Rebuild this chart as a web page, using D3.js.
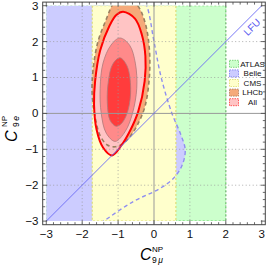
<!DOCTYPE html>
<html>
<head>
<meta charset="utf-8">
<script src="https://cdn.jsdelivr.net/npm/d3@7"></script>
<style>
body { margin: 0; background: #fff; }
svg { display: block; font-family: "Liberation Sans", Arial, sans-serif; }
</style>
</head>
<body>
<svg id="chart" width="266" height="267"></svg>
<script>
// Axis ticks and labels
const tickValues = [-3, -2, -1, 0, 1, 2, 3];
const tickLabels = ["\u22123", "\u22122", "\u22121", "0", "1", "2", "3"];
const gridValues = [-2, -1, 1, 2];

// Experiment regions (C9mu, C9e)
const atlasX = [-3, 2];
const cmsX = [-1.72, 0.61];
// Belle: right edge of the allowed region (it continues off the plot to the left)
const belleEdge = [[-0.5, 3.6], [-0.2, 3.0], [0.0, 2.0], [0.2, 1.0], [0.5, 0.0], [0.75, -0.6],
    [0.87, -1.02], [0.78, -1.45], [0.55, -1.8], [0.15, -2.1], [-0.57, -2.45], [-1.4, -3.0], [-2.1, -3.5]];
const belleFar = [[-4.5, -3.5], [-4.5, 3.6]];
const lhcbContour = [[-0.85, 3.35], [-0.45, 3.0], [-0.24, 2.5], [-0.13, 1.8], [-0.13, 1.0], [-0.25, 0.2],
    [-0.45, -0.3], [-0.65, -0.62], [-0.85, -0.83], [-1.08, -0.93], [-1.3, -0.88], [-1.5, -0.62],
    [-1.62, -0.2], [-1.72, 0.5], [-1.7, 1.2], [-1.56, 2.0], [-1.33, 2.62], [-1.14, 3.05]];
// Combined fit: 3, 2, 1 sigma contours
const all3 = [[-0.86, 2.83], [-0.53, 2.64], [-0.34, 2.2], [-0.24, 1.6], [-0.26, 0.9], [-0.44, 0.05],
    [-0.66, -0.47], [-0.9, -0.88], [-1.17, -1.17], [-1.42, -0.95], [-1.6, -0.45], [-1.67, 0.25],
    [-1.64, 0.9], [-1.5, 1.75], [-1.24, 2.44], [-1.05, 2.74]];
const all2 = [[-0.95, 2.1], [-0.68, 1.9], [-0.52, 1.4], [-0.48, 0.7], [-0.6, 0.0], [-0.8, -0.5],
    [-1.08, -0.78], [-1.33, -0.55], [-1.47, 0.0], [-1.5, 0.7], [-1.42, 1.4], [-1.2, 1.9]];
const all1 = [[-0.95, 1.55], [-0.75, 1.32], [-0.65, 0.7], [-0.72, 0.1], [-0.88, -0.25], [-1.05, -0.36],
    [-1.22, -0.2], [-1.3, 0.3], [-1.27, 0.9], [-1.15, 1.37]];
const lfuLine = [[-3, -3], [3, 3]];

const legendLabels = ["ATLAS", "Belle", "CMS", "LHCb", "All"];
const legendFill = ["#ccffcc", "#ccccff", "#ffffcc", "#f5aa7a", "#ffc4c4"];
const legendStroke = ["#66cc66", "#7777ee", "#dddd66", "#aa7755", "#ff3333"];

// Scales
const svg = d3.select("#chart");
const x = d3.scaleLinear().domain([-3.1, 3.1]).range([42.7, 265.3]);
const y = d3.scaleLinear().domain([-3.1, 3.1]).range([224.7, 2.1]);

svg.append("defs").append("clipPath").attr("id", "plotClip")
    .append("rect")
    .attr("x", x(-3)).attr("y", y(3))
    .attr("width", x(3) - x(-3)).attr("height", y(-3) - y(3));

const plot = svg.append("g").attr("clip-path", "url(#plotClip)");

const closed = d3.line().x(d => x(d[0])).y(d => y(d[1])).curve(d3.curveCatmullRomClosed.alpha(0.5));
const open = d3.line().x(d => x(d[0])).y(d => y(d[1])).curve(d3.curveCatmullRom.alpha(0.5));

// ATLAS band
plot.append("rect")
    .attr("x", x(atlasX[0])).attr("y", y(3))
    .attr("width", x(atlasX[1]) - x(atlasX[0])).attr("height", y(-3) - y(3))
    .attr("fill", "#ccffcc")
    .attr("stroke", "#66cc66").attr("stroke-width", 1.2).attr("stroke-dasharray", "2,2");

// Belle region
const bellePath = open(belleEdge) + belleFar.map(p => "L" + x(p[0]) + "," + y(p[1])).join("") + "Z";
plot.append("path").attr("d", bellePath).attr("fill", "#ccccff");

// CMS band
plot.append("rect")
    .attr("x", x(cmsX[0])).attr("y", y(3))
    .attr("width", x(cmsX[1]) - x(cmsX[0])).attr("height", y(-3) - y(3))
    .attr("fill", "#ffffcc")
    .attr("stroke", "#dddd77").attr("stroke-width", 1.2).attr("stroke-dasharray", "2,2");

plot.append("path").attr("d", open(belleEdge))
    .attr("fill", "none").attr("stroke", "#8f8ff0").attr("stroke-width", 1.4).attr("stroke-dasharray", "4,3");

// LHCb
plot.append("path").attr("d", closed(lhcbContour)).attr("fill", "#f5aa7a");

// All
plot.append("path").attr("d", closed(all3)).attr("fill", "#ffc4c4");
plot.append("path").attr("d", closed(all2)).attr("fill", "#ff8a8a")
    .attr("stroke", "#b07878").attr("stroke-width", 0.8);
plot.append("path").attr("d", closed(all1)).attr("fill", "#ff3c3c")
    .attr("stroke", "#b07878").attr("stroke-width", 0.8);

plot.append("path").attr("d", closed(lhcbContour))
    .attr("fill", "none").attr("stroke", "#9a8060").attr("stroke-width", 1.6).attr("stroke-dasharray", "4,3");
plot.append("path").attr("d", closed(all3))
    .attr("fill", "none").attr("stroke", "#ff0000").attr("stroke-width", 2);

// Grid
const grid = svg.append("g");
gridValues.forEach(v => {
    grid.append("line").attr("x1", x(v)).attr("x2", x(v)).attr("y1", y(3.1)).attr("y2", y(-3.1))
        .attr("stroke", "#999").attr("stroke-width", 0.8).attr("stroke-dasharray", "1,2.5");
    grid.append("line").attr("y1", y(v)).attr("y2", y(v)).attr("x1", x(-3.1)).attr("x2", x(3.1))
        .attr("stroke", "#999").attr("stroke-width", 0.8).attr("stroke-dasharray", "1,2.5");
});
grid.append("line").attr("x1", x(0)).attr("x2", x(0)).attr("y1", y(3.1)).attr("y2", y(-3.1))
    .attr("stroke", "#999").attr("stroke-width", 1);
grid.append("line").attr("y1", y(0)).attr("y2", y(0)).attr("x1", x(-3.1)).attr("x2", x(3.1))
    .attr("stroke", "#999").attr("stroke-width", 1);

// LFU diagonal
svg.append("path").attr("d", d3.line().x(d => x(d[0])).y(d => y(d[1]))(lfuLine))
    .attr("stroke", "#6a6af5").attr("stroke-width", 0.9).attr("fill", "none");
svg.append("text")
    .attr("transform", "translate(252,27) rotate(-45)")
    .attr("text-anchor", "middle").attr("dominant-baseline", "central")
    .attr("font-size", 10).attr("fill", "#5a5af0")
    .text("LFU");

// Frame and ticks
svg.append("rect")
    .attr("x", x(-3.1)).attr("y", y(3.1))
    .attr("width", x(3.1) - x(-3.1)).attr("height", y(-3.1) - y(3.1))
    .attr("fill", "none").attr("stroke", "#444").attr("stroke-width", 1);

const minor = d3.range(-3, 3.001, 0.2).filter(v => Math.abs(v - Math.round(v)) > 0.01);
const tk = svg.append("g").attr("stroke", "#444").attr("stroke-width", 0.8);
function drawTicks(vals, len) {
    vals.forEach(v => {
        tk.append("line").attr("x1", x(v)).attr("x2", x(v)).attr("y1", y(-3.1)).attr("y2", y(-3.1) - len);
        tk.append("line").attr("x1", x(v)).attr("x2", x(v)).attr("y1", y(3.1)).attr("y2", y(3.1) + len);
        tk.append("line").attr("y1", y(v)).attr("y2", y(v)).attr("x1", x(-3.1)).attr("x2", x(-3.1) + len);
        tk.append("line").attr("y1", y(v)).attr("y2", y(v)).attr("x1", x(3.1)).attr("x2", x(3.1) - len);
    });
}
drawTicks(tickValues, 4.5);
drawTicks(minor, 2.5);

svg.append("g").selectAll("text").data(tickValues).join("text")
    .attr("x", d => x(d)).attr("y", 238)
    .attr("text-anchor", "middle").attr("font-size", 11.5).attr("fill", "#111")
    .text((d, i) => tickLabels[i]);
svg.append("g").selectAll("text").data(tickValues).join("text")
    .attr("x", 38.5).attr("y", d => y(d) + 4)
    .attr("text-anchor", "end").attr("font-size", 11.5).attr("fill", "#111")
    .text((d, i) => tickLabels[i]);

// Axis titles
const xt = svg.append("g").attr("transform", "translate(140,260)");
xt.append("text").attr("font-size", 16).attr("font-style", "italic").text("C");
xt.append("text").attr("x", 12).attr("y", -8.5).attr("font-size", 8).text("NP");
xt.append("text").attr("x", 12).attr("y", 2.5).attr("font-size", 8.5)
    .html('9<tspan font-style="italic" dx="1.5">\u03bc</tspan>');

const yt = svg.append("g").attr("transform", "translate(16.5,142) rotate(-90)");
yt.append("text").attr("font-size", 16).attr("font-style", "italic").text("C");
yt.append("text").attr("x", 15).attr("y", -9.5).attr("font-size", 8).text("NP");
yt.append("text").attr("x", 15).attr("y", 2).attr("font-size", 8.5)
    .html('9<tspan font-style="italic" dx="1.5">e</tspan>');

// Legend
const lg = svg.append("g").selectAll("g").data(legendLabels).join("g")
    .attr("transform", (d, i) => `translate(229.5,${63.8 + i * 9.6})`);
lg.append("rect").attr("x", 0).attr("y", -3.5).attr("width", 9).attr("height", 7)
    .attr("fill", (d, i) => legendFill[i]).attr("stroke", (d, i) => legendStroke[i])
    .attr("stroke-width", 0.8).attr("stroke-dasharray", "1.5,1");
lg.append("text").attr("x", 23).attr("y", 2.8)
    .attr("text-anchor", "middle").attr("font-size", 8).attr("fill", "#111")
    .text(d => d);
</script>
</body>
</html>
